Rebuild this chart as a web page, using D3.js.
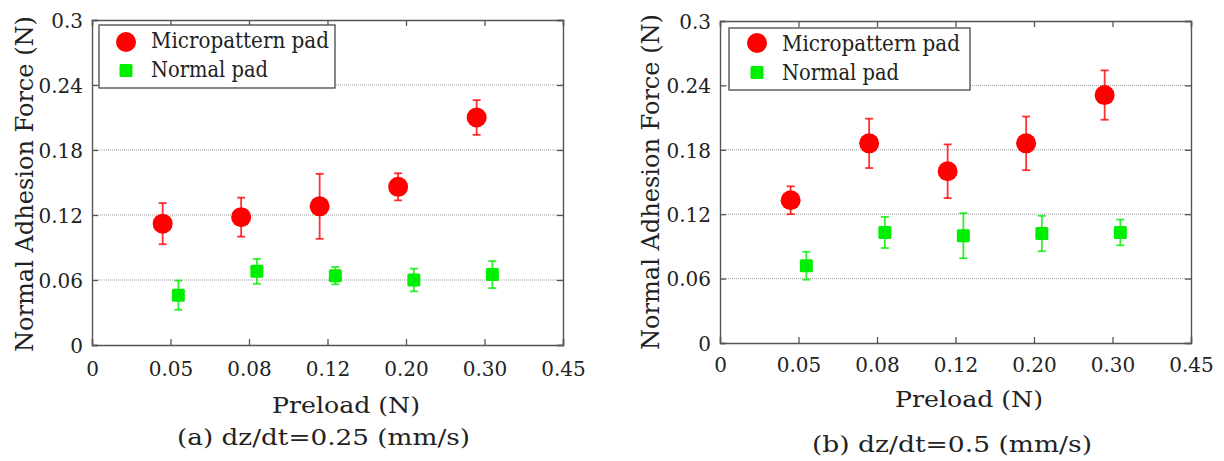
<!DOCTYPE html>
<html><head><meta charset="utf-8">
<script src="https://cdn.jsdelivr.net/npm/d3@7"></script>
<style>
html,body{margin:0;padding:0;background:#fff;}
svg{display:block;}
text{font-family:"DejaVu Serif","Liberation Serif",serif;fill:#222;}
</style></head>
<body>
<svg id="chart" width="1224" height="461"></svg>
<script>
// ---- data ----
const xTickLabels = ["0", "0.05", "0.08", "0.12", "0.20", "0.30", "0.45"];
const categories = ["0.05", "0.08", "0.12", "0.20", "0.30"];
const yTicks = [0, 0.06, 0.12, 0.18, 0.24, 0.3];
const yTickLabels = ["0", "0.06", "0.12", "0.18", "0.24", "0.3"];
const seriesNames = ["Micropattern pad", "Normal pad"];

const microA = [0.112, 0.118, 0.128, 0.146, 0.210];
const microErrA = [0.019, 0.018, 0.030, 0.0125, 0.016];
const normalA = [0.046, 0.068, 0.064, 0.060, 0.065];
const normalErrA = [0.0135, 0.0115, 0.008, 0.0105, 0.0125];

const microB = [0.133, 0.186, 0.160, 0.186, 0.231];
const microErrB = [0.013, 0.023, 0.025, 0.025, 0.023];
const normalB = [0.072, 0.103, 0.100, 0.102, 0.103];
const normalErrB = [0.013, 0.0145, 0.021, 0.0165, 0.012];

const yLabel = "Normal Adhesion Force (N)";
const xLabel = "Preload (N)";
const captions = ["(a) dz/dt=0.25 (mm/s)", "(b) dz/dt=0.5 (mm/s)"];

// ---- layout ----
const FONT = "DejaVu Serif";
const panels = [
  {left: 92, right: 563, top: 20, bottom: 345,
   micro: microA, microErr: microErrA, normal: normalA, normalErr: normalErrA,
   caption: captions[0],
   legend: {x: 99, y: 25, w: 236, h: 63, mx: 126, my1: 42, my2: 70.5, tx: 151, tb1: 48, tb2: 77},
   tickBase: 31, yLabX: 33, yLabY: 184, xLabX: 346, xLabY: 413, capX: 323.5, capY: 445, capW: 293},
  {left: 720, right: 1191, top: 21, bottom: 343,
   micro: microB, microErr: microErrB, normal: normalB, normalErr: normalErrB,
   caption: captions[1],
   legend: {x: 729, y: 28, w: 241, h: 62, mx: 757, my1: 43, my2: 72.5, tx: 782, tb1: 50.5, tb2: 79.5},
   tickBase: 29, yLabX: 659, yLabY: 182, xLabX: 969, xLabY: 407, capX: 952, capY: 452, capW: 280}
];

const RED = "#ff0000", GREEN = "#00ee00", AX = "#555";
const svg = d3.select("#chart");
svg.append("rect").attr("width", 1224).attr("height", 461).attr("fill", "#fff");

panels.forEach(p => {
  const g = svg.append("g");
  const x = d3.scaleLinear().domain([0, xTickLabels.length - 1]).range([p.left, p.right]);
  const y = d3.scaleLinear().domain([0, 0.3]).range([p.bottom, p.top]);

  // grid
  g.append("g").selectAll("line").data(yTicks.filter(v => v > 0 && v < 0.3)).join("line")
    .attr("x1", p.left).attr("x2", p.right)
    .attr("y1", d => y(d)).attr("y2", d => y(d))
    .attr("stroke", "#9a9a9a").attr("stroke-width", 1).attr("stroke-dasharray", "1,1");

  // axes (inward ticks)
  const xIdx = d3.range(xTickLabels.length);
  const xb = g.append("g").attr("transform", `translate(0,${p.bottom})`)
    .call(d3.axisBottom(x).tickValues(xIdx).tickSize(-6).tickPadding(0).tickFormat(i => xTickLabels[i]));
  const xt = g.append("g").attr("transform", `translate(0,${p.top})`)
    .call(d3.axisTop(x).tickValues(xIdx).tickSize(-6).tickFormat(""));
  const yl = g.append("g").attr("transform", `translate(${p.left},0)`)
    .call(d3.axisLeft(y).tickValues(yTicks).tickSize(-6).tickPadding(9).tickFormat((d, i) => yTickLabels[i]));
  const yr = g.append("g").attr("transform", `translate(${p.right},0)`)
    .call(d3.axisRight(y).tickValues(yTicks).tickSize(-6).tickFormat(""));
  [xb, xt, yl, yr].forEach(a => {
    a.select(".domain").attr("stroke", AX).attr("stroke-width", 1.4);
    a.selectAll(".tick line").attr("stroke", AX).attr("stroke-width", 1.3);
    a.selectAll("text").attr("font-family", FONT).attr("font-size", 20).attr("fill", "#2a2a2a");
  });
  xb.selectAll(".tick text").attr("dy", null).attr("y", p.tickBase);
  yl.selectAll(".tick text").attr("dy", "0.36em");

  // error bars + markers
  const cap = 4;
  const drawSeries = (vals, errs, off, color, isCircle) => {
    const sg = g.append("g");
    vals.forEach((v, i) => {
      const cx = x(i + 1 + off);
      const y1 = y(v + errs[i]), y0 = y(v - errs[i]);
      sg.append("line").attr("x1", cx).attr("x2", cx).attr("y1", y1).attr("y2", y0)
        .attr("stroke", color).attr("stroke-width", 1.8).attr("opacity", 0.8);
      [y1, y0].forEach(yy => sg.append("line").attr("x1", cx - cap).attr("x2", cx + cap)
        .attr("y1", yy).attr("y2", yy).attr("stroke", color).attr("stroke-width", 1.8).attr("opacity", 0.8));
      if (isCircle) {
        sg.append("circle").attr("cx", cx).attr("cy", y(v)).attr("r", 10).attr("fill", color);
      } else {
        sg.append("rect").attr("x", cx - 6.5).attr("y", y(v) - 6.5).attr("width", 13).attr("height", 13)
          .attr("rx", 1.5).attr("fill", color);
      }
    });
  };
  drawSeries(p.micro, p.microErr, -0.1, RED, true);
  drawSeries(p.normal, p.normalErr, 0.1, GREEN, false);

  // legend
  const L = p.legend;
  g.append("rect").attr("x", L.x).attr("y", L.y).attr("width", L.w).attr("height", L.h)
    .attr("fill", "#fff").attr("stroke", AX).attr("stroke-width", 1.4);
  g.append("circle").attr("cx", L.mx).attr("cy", L.my1).attr("r", 10).attr("fill", RED);
  g.append("rect").attr("x", L.mx - 6.5).attr("y", L.my2 - 6.5).attr("width", 13).attr("height", 13)
    .attr("rx", 1.5).attr("fill", GREEN);
  g.append("text").attr("x", L.tx).attr("y", L.tb1).attr("font-family", FONT).attr("font-size", 22)
    .attr("textLength", 178).attr("lengthAdjust", "spacingAndGlyphs").text(seriesNames[0]);
  g.append("text").attr("x", L.tx).attr("y", L.tb2).attr("font-family", FONT).attr("font-size", 22)
    .attr("textLength", 117).attr("lengthAdjust", "spacingAndGlyphs").text(seriesNames[1]);

  // labels
  g.append("text").attr("transform", `translate(${p.yLabX},${p.yLabY}) rotate(-90)`)
    .attr("text-anchor", "middle").attr("font-family", FONT).attr("font-size", 25)
    .attr("textLength", 336).attr("lengthAdjust", "spacingAndGlyphs").text(yLabel);
  g.append("text").attr("x", p.xLabX).attr("y", p.xLabY).attr("text-anchor", "middle")
    .attr("font-family", FONT).attr("font-size", 23)
    .attr("textLength", 148).attr("lengthAdjust", "spacingAndGlyphs").text(xLabel);
  g.append("text").attr("x", p.capX).attr("y", p.capY).attr("text-anchor", "middle")
    .attr("font-family", FONT).attr("font-size", 22)
    .attr("textLength", p.capW).attr("lengthAdjust", "spacingAndGlyphs").text(p.caption);
});
</script>
</body></html>
